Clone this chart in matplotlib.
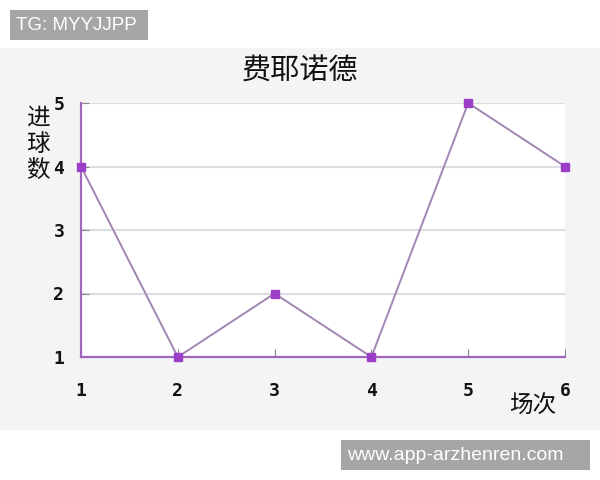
import matplotlib.pyplot as plt
from matplotlib.patches import Rectangle

plt.rcParams['font.family'] = ['Noto Sans CJK SC', 'DejaVu Sans']

matches = [1, 2, 3, 4, 5, 6]
goals = [4, 1, 2, 1, 5, 4]
yticks = [1, 2, 3, 4, 5]
title = "费耶诺德"
xlabel = "场次"
ylabel = ["进", "球", "数"]

W, H = 600, 480
fig = plt.figure(figsize=(6, 4.8), dpi=100)
fig.patch.set_facecolor("white")


def box(x0, y0, x1, y1, color):
    # rectangle in pixel coords (top-left origin)
    fig.patches.append(Rectangle((x0 / W, 1 - y1 / H), (x1 - x0) / W, (y1 - y0) / H,
                                 transform=fig.transFigure, facecolor=color,
                                 edgecolor="none", zorder=-5))


box(0, 48, 600, 430, "#f4f4f4")
box(10, 10, 148, 40, "#a6a6a6")
box(341, 440, 590, 470, "#a6a6a6")

ax = fig.add_axes([81 / W, 123 / H, 484 / W, 254 / H])
ax.set_facecolor("white")
ax.set_xlim(1, 6)
ax.set_ylim(1, 5)

for y in yticks[1:]:
    ax.axhline(y, color="#dcdce4", lw=1.5, zorder=1)

ax.plot(matches, goals, color="#a286b2", lw=1.4, zorder=3)
ax.plot(matches, goals, ls="none", marker="s", ms=6, color="#9b3fc8", zorder=4, clip_on=False)

for s in ["top", "right"]:
    ax.spines[s].set_visible(False)
for s in ["left", "bottom"]:
    ax.spines[s].set_color("#a066c0")
    ax.spines[s].set_linewidth(1.6)

ax.set_xticks(matches)
ax.set_yticks(yticks)
ax.tick_params(direction="in", length=6, color="#888888", labelsize=13, labelcolor="#111111")
ax.tick_params(axis="x", pad=18)
ax.tick_params(axis="y", pad=12)
for lab in ax.get_xticklabels() + ax.get_yticklabels():
    lab.set_fontweight("bold")
    lab.set_family("DejaVu Sans Mono")

fig.text(300 / W, 1 - 72 / H, title, ha="center", va="center", fontsize=21,
         fontweight="medium", color="#111111")
for i, ch in enumerate(ylabel):
    fig.text(38 / W, 1 - (118 + 26 * i) / H, ch, ha="center", va="center", fontsize=17,
             fontweight="medium", color="#111111")
fig.text(533 / W, 1 - 406 / H, xlabel, ha="center", va="center", fontsize=17,
         fontweight="medium", color="#111111")

fig.text(16 / W, 1 - 25 / H, "TG: MYYJJPP", ha="left", va="center", fontsize=13.5,
         color="white", family="Liberation Sans")
fig.text(347 / W, 1 - 455 / H, "www.app-arzhenren.com", ha="left", va="center", fontsize=14,
         color="white", family="Liberation Sans")

fig.savefig("out.png", dpi=100)
